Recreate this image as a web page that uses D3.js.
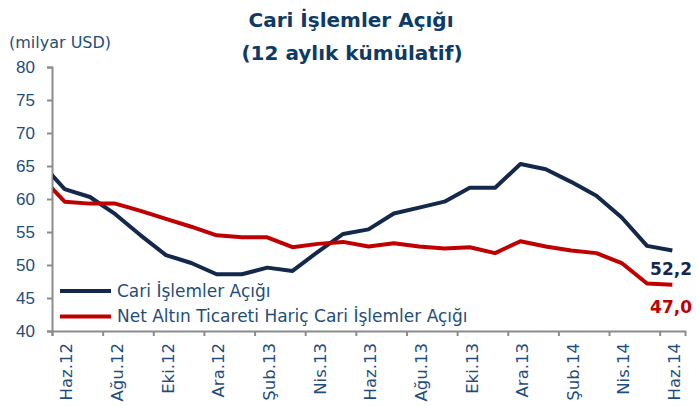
<!DOCTYPE html>
<html>
<head>
<meta charset="utf-8">
<script src="https://d3js.org/d3.v7.min.js"></script>
<style>
  body { margin: 0; background: #fff; }
  svg { font-family: "DejaVu Sans", sans-serif; }
</style>
</head>
<body>
<div id="chart"></div>
<script>
// months, from May.12 (clipped, partly visible at the axis) to Haz.14
const months = ["May.12", "Haz.12", "Tem.12", "Ağu.12", "Eyl.12", "Eki.12", "Kas.12", "Ara.12",
    "Oca.13", "Şub.13", "Mar.13", "Nis.13", "May.13", "Haz.13", "Tem.13", "Ağu.13", "Eyl.13",
    "Eki.13", "Kas.13", "Ara.13", "Oca.14", "Şub.14", "Mar.14", "Nis.14", "May.14", "Haz.14"];
const cariAcik = [65.7, 61.5, 60.3, 57.7, 54.5, 51.5, 50.3, 48.6, 48.6, 49.6, 49.1, 52.0, 54.7,
    55.4, 57.8, 58.7, 59.6, 61.7, 61.7, 65.3, 64.5, 62.6, 60.5, 57.2, 52.9, 52.2];
const altinHaric = [63.6, 59.6, 59.3, 59.3, 58.2, 57.0, 55.8, 54.5, 54.2, 54.2, 52.7, 53.2, 53.5,
    52.8, 53.3, 52.8, 52.5, 52.7, 51.8, 53.6, 52.8, 52.2, 51.8, 50.3, 47.2, 47.0];
const yTicks = [40, 45, 50, 55, 60, 65, 70, 75, 80];
const seriesNames = ["Cari İşlemler Açığı", "Net Altın Ticareti Hariç Cari İşlemler Açığı"];
const seriesColors = ["#14284b", "#c00000"];
const endLabels = ["52,2", "47,0"];

const width = 696, height = 406;
const plot = { left: 52, right: 685, top: 67, bottom: 331 };
const labelColor = "#1f4e79";

const svg = d3.select("#chart").append("svg")
    .attr("width", width)
    .attr("height", height);

// first month sits one step left of the axis (clipped)
const x = d3.scaleLinear().domain([0.5, 25.5]).range([plot.left, plot.right]);
const y = d3.scaleLinear().domain([40, 80]).range([plot.bottom, plot.top]);

// title
svg.append("text")
    .attr("x", 351).attr("y", 27)
    .attr("text-anchor", "middle")
    .attr("fill", "#0d3a66")
    .style("font-size", "20px").style("font-weight", "bold")
    .text("Cari İşlemler Açığı");
svg.append("text")
    .attr("x", 352).attr("y", 60)
    .attr("text-anchor", "middle")
    .attr("fill", "#0d3a66")
    .style("font-size", "20px").style("font-weight", "bold")
    .text("(12 aylık kümülatif)");

svg.append("text")
    .attr("x", 9).attr("y", 48)
    .attr("fill", labelColor)
    .style("font-size", "16px")
    .text("(milyar USD)");

// y axis
const yAxis = svg.append("g")
    .attr("transform", `translate(${plot.left},0)`)
    .call(d3.axisLeft(y).tickValues(yTicks).tickSize(5).tickPadding(12));
yAxis.select(".domain").attr("stroke", "#8c8c8c").attr("stroke-width", 2);
yAxis.selectAll(".tick line").attr("stroke", "#8c8c8c").attr("stroke-width", 2);
yAxis.selectAll("text").attr("fill", labelColor).style("font-size", "17px");

// x axis: ticks between categories every 2 months, labels on the months
const xAxis = svg.append("g")
    .attr("transform", `translate(0,${plot.bottom})`)
    .call(d3.axisBottom(x).tickValues(d3.range(0.5, 25, 2)).tickSize(5).tickFormat(""));
xAxis.select(".domain").attr("stroke", "#8c8c8c").attr("stroke-width", 2);
xAxis.selectAll(".tick line").attr("stroke", "#8c8c8c").attr("stroke-width", 2);

const labelIdx = d3.range(1, 26, 2);
svg.append("g").selectAll("text")
    .data(labelIdx)
    .join("text")
    .attr("transform", i => `translate(${x(i) + 2},${plot.bottom + 12}) rotate(-90)`)
    .attr("text-anchor", "end")
    .attr("dy", "0.35em")
    .attr("fill", labelColor)
    .style("font-size", "16.5px")
    .text(i => months[i]);

// lines
svg.append("clipPath").attr("id", "plot-clip")
    .append("rect")
    .attr("x", plot.left + 1).attr("y", plot.top - 20)
    .attr("width", plot.right - plot.left).attr("height", plot.bottom - plot.top + 20);

const line = d3.line()
    .x((d, i) => x(i))
    .y(d => y(d));

[cariAcik, altinHaric].forEach((series, k) => {
    svg.append("path")
        .datum(series)
        .attr("clip-path", "url(#plot-clip)")
        .attr("fill", "none")
        .attr("stroke", seriesColors[k])
        .attr("stroke-width", 4)
        .attr("stroke-linejoin", "round")
        .attr("d", line);
});

// end value labels
svg.append("text")
    .attr("x", 692).attr("y", y(52.2) + 25)
    .attr("text-anchor", "end")
    .attr("fill", seriesColors[0])
    .style("font-size", "17px").style("font-weight", "bold")
    .text(endLabels[0]);
svg.append("text")
    .attr("x", 692).attr("y", y(47.0) + 28)
    .attr("text-anchor", "end")
    .attr("fill", seriesColors[1])
    .style("font-size", "17px").style("font-weight", "bold")
    .text(endLabels[1]);

// legend
const legend = svg.append("g");
seriesNames.forEach((name, k) => {
    const ly = 291 + k * 25.5;
    legend.append("line")
        .attr("x1", 60).attr("x2", 111)
        .attr("y1", ly).attr("y2", ly)
        .attr("stroke", seriesColors[k])
        .attr("stroke-width", 4);
    legend.append("text")
        .attr("x", 117).attr("y", ly)
        .attr("dy", "0.35em")
        .attr("fill", labelColor)
        .style("font-size", "17px")
        .text(name);
});
</script>
</body>
</html>
